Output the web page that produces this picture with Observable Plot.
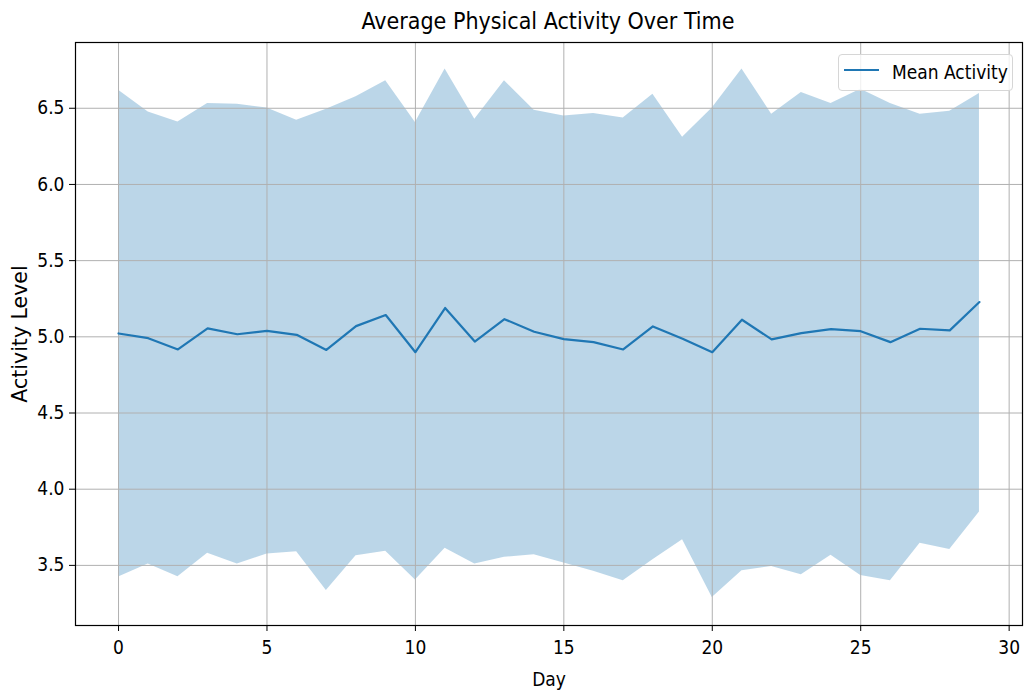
<!DOCTYPE html>
<html>
<head>
<meta charset="utf-8">
<script src="https://cdn.jsdelivr.net/npm/d3@7"></script>
<script src="https://cdn.jsdelivr.net/npm/@observablehq/plot@0.6"></script>
<style>
  html, body { margin: 0; padding: 0; background: #fff; }
  body { width: 1024px; height: 691px; position: relative; overflow: hidden;
         font-family: "DejaVu Sans Condensed", "DejaVu Sans", sans-serif; font-stretch: condensed; }
  #title { height: 41px; line-height: 43px; text-align: center; font-size: 23px; color: #000; padding-left: 72px; box-sizing: border-box; white-space: nowrap; }
  #legend { position: absolute; left: 838px; top: 54px; width: 175px; height: 37px; box-sizing: border-box;
            border: 1px solid #d6d6d6; border-radius: 4px; background: rgba(255,255,255,0.8); }
  #legend svg { position: absolute; left: 4px; top: 0px; }
  #legend span { position: absolute; left: 53px; top: 6px; font-size: 19px; color: #000; white-space: nowrap; }
  svg text { font-family: "DejaVu Sans Condensed", "DejaVu Sans", sans-serif; font-stretch: condensed; }
  svg g[aria-label="y-axis label"] text { font-family: "DejaVu Sans", sans-serif; font-stretch: normal; }
</style>
</head>
<body>
<div id="title">Average Physical Activity Over Time</div>
<div id="chart"></div>
<div id="legend"><svg width="40" height="36"><line x1="1" x2="36" y1="15" y2="15" stroke="#1f77b4" stroke-width="2.2"/></svg><span>Mean Activity</span></div>
<script>
const days = [0,1,2,3,4,5,6,7,8,9,10,11,12,13,14,15,16,17,18,19,20,21,22,23,24,25,26,27,28,29];
const meanActivity = [5.022,4.991,4.917,5.055,5.017,5.039,5.013,4.914,5.070,5.143,4.899,5.189,4.969,5.116,5.033,
                      4.985,4.965,4.917,5.068,4.987,4.899,5.112,4.983,5.024,5.050,5.037,4.965,5.053,5.042,5.228];
const upperBand = [6.618,6.476,6.410,6.531,6.526,6.502,6.421,6.493,6.575,6.680,6.406,6.757,6.428,6.680,6.487,
                   6.449,6.465,6.436,6.592,6.309,6.502,6.757,6.461,6.603,6.531,6.625,6.531,6.461,6.480,6.597];
const lowerBand = [3.423,3.509,3.425,3.579,3.509,3.575,3.590,3.336,3.564,3.592,3.404,3.612,3.509,3.553,3.570,
                   3.515,3.461,3.399,3.537,3.669,3.289,3.465,3.493,3.439,3.566,3.434,3.399,3.645,3.605,3.851];
const xTicks = [0,5,10,15,20,25,30];
const yTicks = [3.5,4.0,4.5,5.0,5.5,6.0,6.5];

const rows = days.map((d, i) => ({day: d, mean: meanActivity[i], lo: lowerBand[i], hi: upperBand[i]}));
const blue = "#1f77b4";
const fs = 19;

const chart = Plot.plot({
  width: 1024,
  height: 650,
  marginLeft: 75,
  marginRight: 2,
  marginTop: 1,
  marginBottom: 66,
  style: {fontSize: fs + "px", color: "#000", background: "#fff"},
  x: {domain: [-1.45, 30.45]},
  y: {domain: [3.1055, 6.9315]},
  marks: [
    Plot.areaY(rows, {x: "day", y1: "lo", y2: "hi", fill: blue, fillOpacity: 0.3}),
    Plot.gridX(xTicks, {stroke: "#b0b0b0", strokeOpacity: 1, strokeWidth: 1}),
    Plot.gridY(yTicks, {stroke: "#b0b0b0", strokeOpacity: 1, strokeWidth: 1}),
    Plot.lineY(rows, {x: "day", y: "mean", stroke: blue, strokeWidth: 2.2}),
    Plot.frame({stroke: "#000", strokeWidth: 1.2}),
    Plot.axisX(xTicks, {tickSize: 6, tickPadding: 9, fontSize: fs, label: "Day", labelAnchor: "center", labelArrow: "none", labelOffset: 60, tickFormat: d => String(d)}),
    Plot.axisY(yTicks, {tickSize: 6, tickPadding: 5, fontSize: fs, label: "Activity Level", labelAnchor: "center", labelArrow: "none", labelOffset: 63, tickFormat: d => d.toFixed(1)})
  ]
});
document.getElementById("chart").appendChild(chart);
chart.querySelectorAll('g[aria-label="y-axis label"] text').forEach(t => { t.setAttribute("font-size", "20.5"); });
</script>
</body>
</html>
